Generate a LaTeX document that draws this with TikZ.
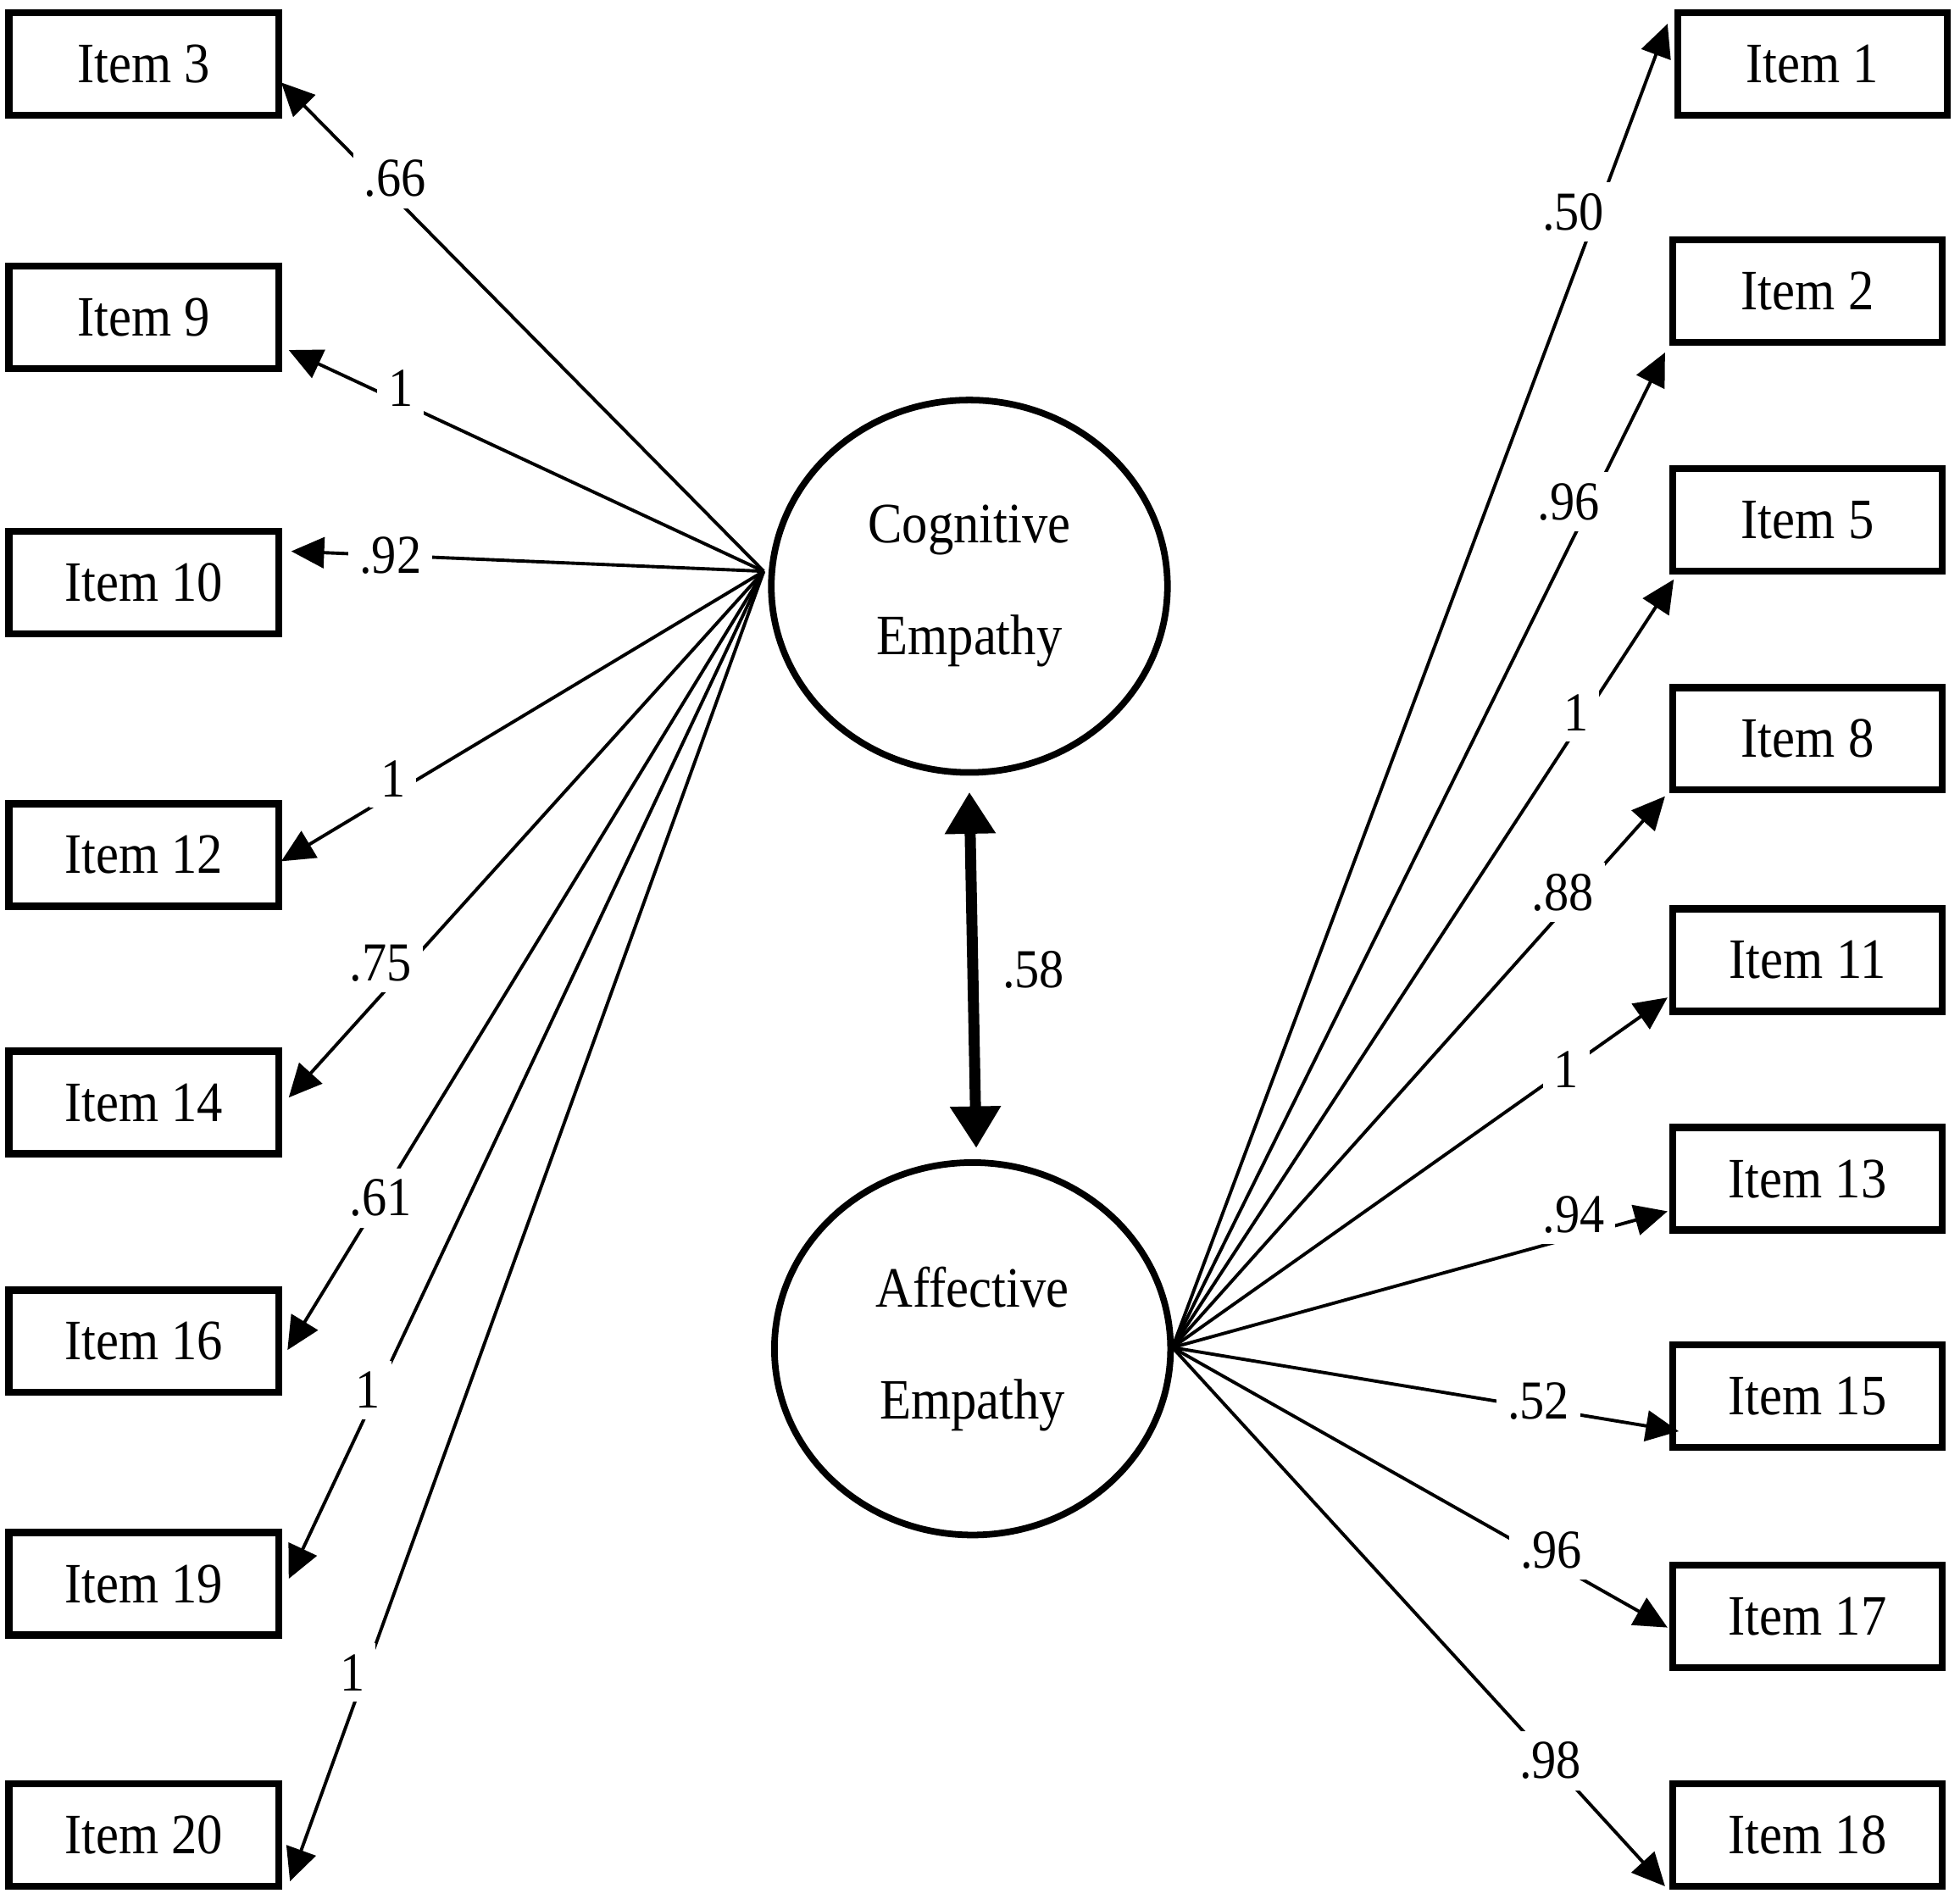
\documentclass[tikz,border=0pt]{standalone}
\usepackage{fontspec}
\setmainfont{Liberation Serif}[FakeStretch=0.9]
\usetikzlibrary{arrows.meta,shapes.geometric,calc}
\begin{document}
\begin{tikzpicture}[x=0.02cm,y=-0.02cm,
  itembox/.style={draw, line width=3.2pt, minimum width=4.32cm, minimum height=1.64cm, inner sep=0pt, font=\fontsize{26}{30}\selectfont},
  latent/.style={draw, ellipse, line width=3pt, minimum width=6.34cm, minimum height=5.96cm, inner sep=0pt, align=center, font=\fontsize{26}{51}\selectfont},
  load/.style={line width=1.5pt, -{Triangle[length=15pt,width=14pt]}},
  dbl/.style={line width=5pt, {Triangle[length=19pt,width=22pt]}-{Triangle[length=19pt,width=22pt]}},
  coef/.style={fill=white, inner sep=5pt, font=\fontsize{25}{30}\selectfont}]
\useasboundingbox (0,0) rectangle (1568,1519);

% left items
\node[itembox] (i3)  at (115,51)   {Item 3};
\node[itembox] (i9)  at (115,254)  {Item 9};
\node[itembox] (i10) at (115,466)  {Item 10};
\node[itembox] (i12) at (115,684)  {Item 12};
\node[itembox] (i14) at (115,882)  {Item 14};
\node[itembox] (i16) at (115,1073) {Item 16};
\node[itembox] (i19) at (115,1267) {Item 19};
\node[itembox] (i20) at (115,1468) {Item 20};

% right items
\node[itembox] (i1)  at (1450,51)   {Item 1};
\node[itembox] (i2)  at (1446,233)  {Item 2};
\node[itembox] (i5)  at (1446,416)  {Item 5};
\node[itembox] (i8)  at (1446,591)  {Item 8};
\node[itembox] (i11) at (1446,768)  {Item 11};
\node[itembox] (i13) at (1446,943)  {Item 13};
\node[itembox] (i15) at (1446,1117) {Item 15};
\node[itembox] (i17) at (1446,1293) {Item 17};
\node[itembox] (i18) at (1446,1468) {Item 18};

% latent factors
\node[latent] (cog) at (775.5,469) {Cognitive\\Empathy};
\node[latent] (aff) at (778,1079)  {Affective\\Empathy};

\coordinate (cf) at (611,457);
\coordinate (af) at (938,1078);

% cognitive loadings
\draw[load] (cf) -- ($(i3.east)+(-0.8,15)$)  node[coef,pos=0.78,shift={(6,-9)}]{.66};
\draw[load] (cf) -- ($(i9.east)+(5.2,26)$)   node[coef,pos=0.77,shift={(2,-10)}]{1};
\draw[load] (cf) -- ($(i10.east)+(7.2,-25)$) node[coef,pos=0.79]{.92};
\draw[load] (cf) -- ($(i12.east)+(-0.8,5)$)  node[coef,pos=0.75,shift={(-7,-8)}]{1};
\draw[load] (cf) -- ($(i14.east)+(5.2,-4)$)  node[coef,pos=0.775,shift={(-12,-13)}]{.75};
\draw[load] (cf) -- ($(i16.east)+(4.2,7)$)   node[coef,pos=0.805]{.61};
\draw[load] (cf) -- ($(i19.east)+(5.2,-4)$)  node[coef,pos=0.825,shift={(-3,-10)}]{1};
\draw[load] (cf) -- ($(i20.east)+(6.2,37)$)  node[coef,pos=0.855,shift={(-5,-15)}]{1};

% affective loadings
\draw[load] (af) -- ($(i1.west)+(-5.2,-32)$) node[coef,pos=0.855,shift={(-18,-3)}]{.50};
\draw[load] (af) -- ($(i2.west)+(-3.2,49)$)  node[coef,pos=0.83,shift={(-10,-16)}]{.96};
\draw[load] (af) -- ($(i5.west)+(3.8,47.5)$) node[coef,pos=0.815,shift={(-4,-7)}]{1};
\draw[load] (af) -- ($(i8.west)+(-3.2,46)$)  node[coef,pos=0.81,shift={(-7,-7)}]{.88};
\draw[load] (af) -- ($(i11.west)+(-1.2,30)$) node[coef,pos=0.795]{1};
\draw[load] (af) -- ($(i13.west)+(-1.2,26)$) node[coef,pos=0.81,shift={(0,-18)}]{.94};
\draw[load] (af) -- ($(i15.west)+(7.8,28)$)  node[coef,pos=0.745,shift={(-9,-7)}]{.52};
\draw[load] (af) -- ($(i17.west)+(-1.2,9)$)  node[coef,pos=0.75,shift={(6,-6)}]{.96};
\draw[load] (af) -- ($(i18.west)+(-3.2,41)$) node[coef,pos=0.767]{.98};

% correlation
\draw[dbl] ([yshift=-7.4pt]cog.south) -- ([xshift=1.7pt,yshift=5.1pt]aff.north)
  node[coef,pos=0.5,anchor=west,xshift=6pt,fill=none]{.58};
\end{tikzpicture}
\end{document}
